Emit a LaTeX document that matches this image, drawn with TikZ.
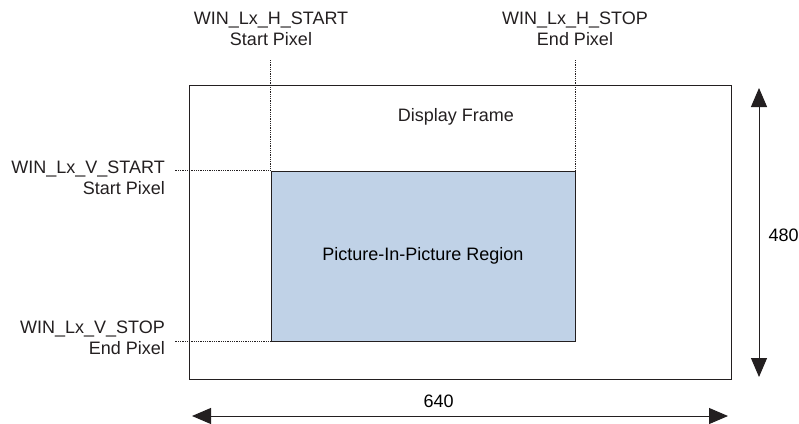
\documentclass[tikz,border=0pt]{standalone}
\usepackage{fontspec}
\setmainfont{Liberation Sans}
\usetikzlibrary{arrows.meta,positioning}
\definecolor{pipblue}{RGB}{192,210,231}
\definecolor{lineblack}{RGB}{35,31,32}
\tikzset{
  framebox/.style={draw=lineblack, line width=1pt, inner sep=0pt},
  pipbox/.style={draw=lineblack, line width=1pt, fill=pipblue, inner sep=0pt},
  regtext/.style={align=center, inner sep=0pt, text=lineblack},
  guide/.style={densely dotted, line width=0.8pt, draw=lineblack},
  dimarr/.style={{Triangle[length=19pt,width=16pt]}-{Triangle[length=19pt,width=16pt]}, line width=1pt, draw=lineblack}
}

\begin{document}
\begin{tikzpicture}[x=1pt, y=-1pt, font=\fontsize{18}{21.5}\selectfont]
  \useasboundingbox (0,0) rectangle (799,423);
  % display frame and the window inside it
  \node[framebox, minimum width=542pt, minimum height=294pt] (frame) at (460,232) {};
  \node[pipbox, minimum width=304pt, minimum height=170pt] (pip) at (423,256) {Picture-In-Picture Region};
  \node[regtext] (frametxt) at (456,117) {Display Frame};
  % register labels
  \node[regtext] (hstart) at (271,29) {WIN\_Lx\_H\_START\\Start Pixel};
  \node[regtext] (hstop) at (575,29) {WIN\_Lx\_H\_STOP\\End Pixel};
  \node[regtext, align=right, anchor=east] (vstart) at (165,178) {WIN\_Lx\_V\_START\\Start Pixel};
  \node[regtext, align=right, anchor=east] (vstop) at (165,338) {WIN\_Lx\_V\_STOP\\End Pixel};
  \draw[guide, shorten >=14pt] (pip.north west) -- (pip.north west |- hstart.south);
  \draw[guide, shorten >=14pt] (pip.north east) -- (pip.north east |- hstop.south);
  \draw[guide, shorten >=10pt] (pip.north west) -- (pip.north west -| vstart.east);
  \draw[guide, shorten >=10pt] (pip.south west) -- (pip.south west -| vstop.east);
  % dimensions
  \coordinate (wleft) at (192,416);
  \coordinate (wright) at (728,416);
  \coordinate (htop) at (759,88);
  \coordinate (hbot) at (759,377);
  \draw[dimarr] (wleft) -- node[pos=0.46, above=8pt, inner sep=0pt] (wtxt) {640} (wright);
  \draw[dimarr] (htop) -- node[pos=0.51, right=9pt, inner sep=0pt] (htxt) {480} (hbot);
\end{tikzpicture}
\end{document}
